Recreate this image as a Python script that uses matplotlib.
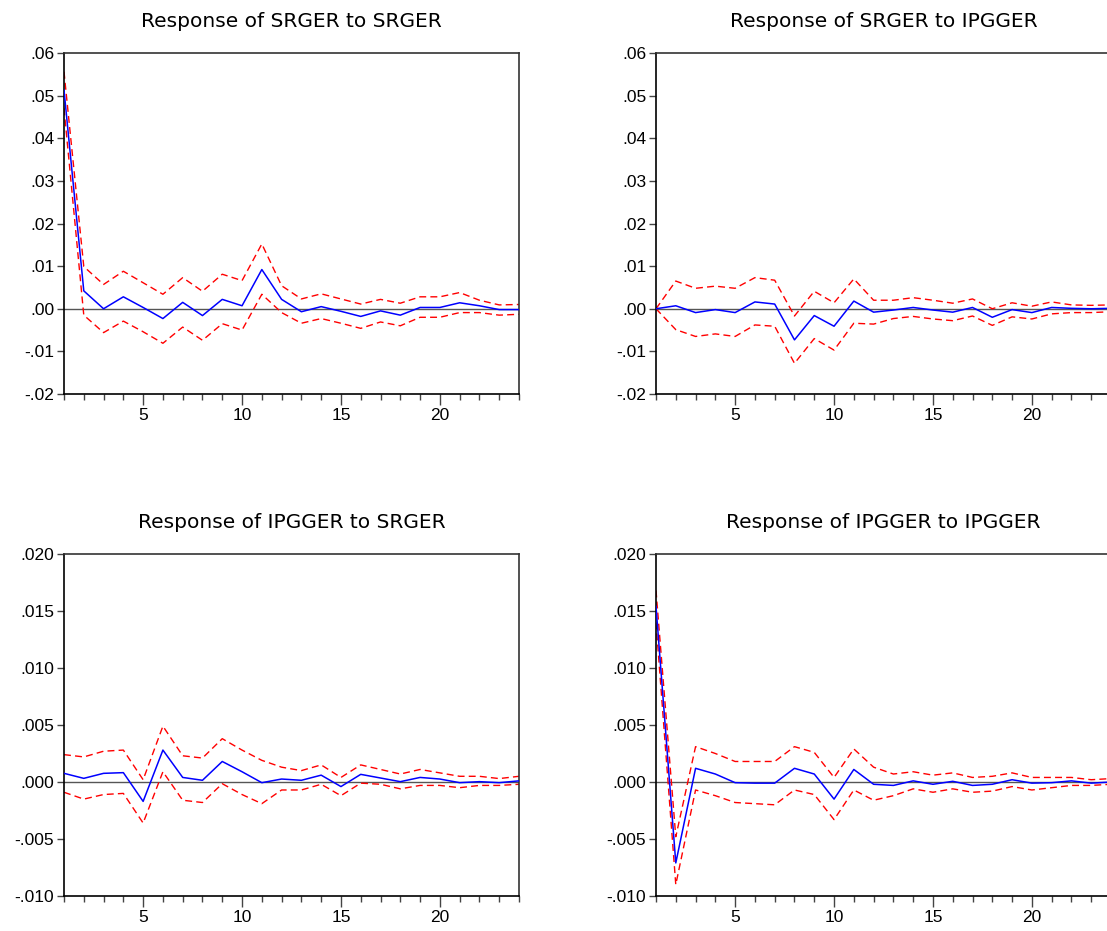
import numpy as np
import matplotlib
matplotlib.use("Agg")
import matplotlib.pyplot as plt
from matplotlib.ticker import FixedLocator, FixedFormatter, MultipleLocator

periods = np.arange(1, 25)

# Response of SRGER to SRGER
srger_srger = [0.0513, 0.0042, 0.0000, 0.0028, 0.0003, -0.0023, 0.0015, -0.0016, 0.0022, 0.0007, 0.0092, 0.0022,
               -0.0007, 0.0005, -0.0006, -0.0018, -0.0005, -0.0015, 0.0003, 0.0003, 0.0014, 0.0007, -0.0002, -0.0002]
srger_srger_hi = [0.0556, 0.0099, 0.0057, 0.0088, 0.0061, 0.0034, 0.0073, 0.0041, 0.0081, 0.0066, 0.0152, 0.0054,
                  0.0023, 0.0035, 0.0023, 0.0011, 0.0022, 0.0013, 0.0028, 0.0028, 0.0038, 0.0020, 0.0009, 0.0010]
srger_srger_lo = [0.0470, -0.0015, -0.0056, -0.0029, -0.0054, -0.0081, -0.0043, -0.0074, -0.0035, -0.0050, 0.0034, -0.0009,
                  -0.0034, -0.0023, -0.0034, -0.0046, -0.0031, -0.0040, -0.0020, -0.0020, -0.0009, -0.0009, -0.0015, -0.0013]

# Response of SRGER to IPGGER
srger_ipgger = [0.0000, 0.0007, -0.0009, -0.0002, -0.0009, 0.0016, 0.0011, -0.0073, -0.0016, -0.0041, 0.0018, -0.0008,
                -0.0003, 0.0003, -0.0003, -0.0008, 0.0003, -0.0020, -0.0002, -0.0009, 0.0003, 0.0001, 0.0000, 0.0001]
srger_ipgger_hi = [0.0000, 0.0065, 0.0048, 0.0053, 0.0048, 0.0073, 0.0067, -0.0017, 0.0041, 0.0014, 0.0070, 0.0020,
                   0.0020, 0.0026, 0.0020, 0.0013, 0.0023, 0.0000, 0.0014, 0.0006, 0.0016, 0.0009, 0.0008, 0.0009]
srger_ipgger_lo = [0.0000, -0.0049, -0.0065, -0.0059, -0.0065, -0.0038, -0.0041, -0.0128, -0.0070, -0.0097, -0.0034, -0.0036,
                   -0.0023, -0.0018, -0.0024, -0.0028, -0.0017, -0.0039, -0.0019, -0.0024, -0.0012, -0.0009, -0.0009, -0.0007]

# Response of IPGGER to SRGER
ipgger_srger = [0.00076, 0.00032, 0.00076, 0.00082, -0.0017, 0.0028, 0.0004, 0.00015, 0.0018, 0.0009, -0.00006, 0.00026,
                0.00015, 0.0006, -0.0004, 0.00067, 0.00035, 0.00003, 0.0004, 0.00026, -0.00006, 0.00003, -0.00006, 0.0001]
ipgger_srger_hi = [0.0024, 0.0022, 0.0027, 0.0028, 0.0002, 0.0049, 0.0023, 0.0021, 0.0038, 0.0028, 0.0019, 0.0013,
                   0.0010, 0.0015, 0.0004, 0.0015, 0.0011, 0.0007, 0.0011, 0.0008, 0.0005, 0.0005, 0.0003, 0.0005]
ipgger_srger_lo = [-0.0009, -0.0015, -0.0011, -0.0010, -0.0036, 0.0009, -0.0016, -0.0018, -0.00015, -0.0011, -0.0019, -0.0007,
                   -0.0007, -0.0002, -0.0012, -0.0001, -0.0002, -0.0006, -0.0003, -0.0003, -0.0005, -0.0003, -0.0003, -0.0002]

# Response of IPGGER to IPGGER
ipgger_ipgger = [0.0154, -0.0071, 0.0012, 0.0007, -0.00006, -0.0001, -0.0001, 0.0012, 0.0007, -0.0015, 0.0011, -0.0002,
                 -0.0003, 0.0001, -0.0002, 0.00006, -0.0003, -0.0002, 0.0002, -0.0001, -0.00006, 0.0001, -0.0001, 0.0000]
ipgger_ipgger_hi = [0.0168, -0.0048, 0.0031, 0.0025, 0.0018, 0.0018, 0.0018, 0.0031, 0.0026, 0.0004, 0.0029, 0.0013,
                    0.0007, 0.0009, 0.0006, 0.0008, 0.0004, 0.0005, 0.0008, 0.0004, 0.0004, 0.0004, 0.0002, 0.0003]
ipgger_ipgger_lo = [0.0140, -0.0090, -0.0007, -0.0012, -0.0018, -0.0019, -0.0020, -0.0007, -0.0011, -0.0033, -0.0007, -0.0016,
                    -0.0012, -0.0006, -0.0009, -0.0006, -0.0009, -0.0008, -0.0004, -0.0007, -0.0005, -0.0003, -0.0003, -0.0002]

titles = ["Response of SRGER to SRGER", "Response of SRGER to IPGGER",
          "Response of IPGGER to SRGER", "Response of IPGGER to IPGGER"]

top_ticks = [-0.02, -0.01, 0.0, 0.01, 0.02, 0.03, 0.04, 0.05, 0.06]
top_labels = ["-.02", "-.01", ".00", ".01", ".02", ".03", ".04", ".05", ".06"]
bot_ticks = [-0.010, -0.005, 0.0, 0.005, 0.010, 0.015, 0.020]
bot_labels = ["-.010", "-.005", ".000", ".005", ".010", ".015", ".020"]
x_major = [5, 10, 15, 20]

panels = [
    (srger_srger, srger_srger_hi, srger_srger_lo, top_ticks, top_labels),
    (srger_ipgger, srger_ipgger_hi, srger_ipgger_lo, top_ticks, top_labels),
    (ipgger_srger, ipgger_srger_hi, ipgger_srger_lo, bot_ticks, bot_labels),
    (ipgger_ipgger, ipgger_ipgger_hi, ipgger_ipgger_lo, bot_ticks, bot_labels),
]

W, H = 1107, 931
boxes = [(64, 53, 455, 341), (656, 53, 455, 341), (64, 554, 455, 342), (656, 554, 455, 342)]

fig = plt.figure(figsize=(W / 100, H / 100), dpi=100)

for (resp, hi, lo, yt, yl), (px, py, pw, ph), title in zip(panels, boxes, titles):
    ax = fig.add_axes([px / W, 1 - (py + ph) / H, pw / W, ph / H])
    ax.axhline(0, color='#555555', linewidth=1.0, zorder=1)
    ax.plot(periods, hi, color='red', linestyle=(0, (5, 3)), linewidth=1.0, zorder=2)
    ax.plot(periods, lo, color='red', linestyle=(0, (5, 3)), linewidth=1.0, zorder=2)
    ax.plot(periods, resp, color='blue', linewidth=1.1, zorder=3)

    ax.set_xlim(1, 24)
    ax.set_ylim(yt[0], yt[-1])
    ax.yaxis.set_major_locator(FixedLocator(yt))
    ax.yaxis.set_major_formatter(FixedFormatter(yl))
    ax.xaxis.set_major_locator(FixedLocator(x_major))
    ax.xaxis.set_minor_locator(MultipleLocator(1))

    ax.tick_params(axis='y', direction='out', length=5, width=1, color='#444444',
                   labelsize=12.5, pad=2)
    ax.tick_params(axis='x', which='major', direction='out', length=8, width=1, color='#444444',
                   labelsize=12.5, pad=2)
    ax.tick_params(axis='x', which='minor', direction='out', length=4, width=1, color='#444444')
    for lab in ax.get_xticklabels() + ax.get_yticklabels():
        lab.set_fontfamily('Liberation Sans')

    for s in ax.spines.values():
        s.set_linewidth(1.2)
        s.set_color('#333333')
    ax.spines['left'].set_color('black')
    ax.spines['bottom'].set_color('black')

    ax.set_title(title, fontsize=14.5, fontfamily='DejaVu Sans', pad=19)

fig.savefig('out.png', dpi=100)
